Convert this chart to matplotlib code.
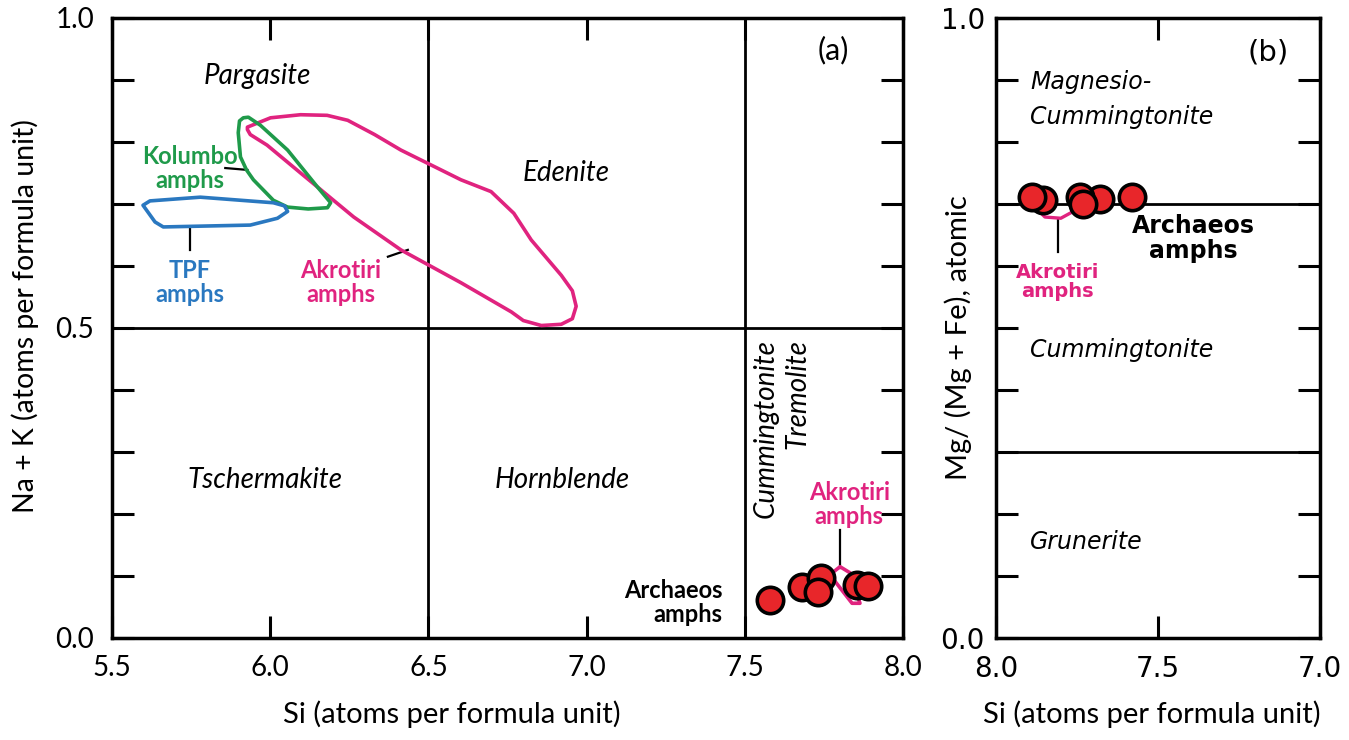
import matplotlib.pyplot as plt
from matplotlib.patches import Polygon
import numpy as np

# Archaeos amphibole analyses
si = [7.58, 7.68, 7.74, 7.73, 7.855, 7.89]
na_k = [0.061, 0.082, 0.097, 0.074, 0.085, 0.084]
mg_no = [0.711, 0.708, 0.711, 0.700, 0.706, 0.711]

# Field outlines (Si, Na+K)
akrotiri_si = [5.928, 6.001, 6.096, 6.18, 6.245, 6.33, 6.413, 6.52, 6.603, 6.698, 6.77,
               6.825, 6.92, 6.955, 6.967, 6.955, 6.92, 6.857, 6.80, 6.762, 6.603, 6.413,
               6.264, 6.096, 5.99, 5.937, 5.928]
akrotiri_nak = [0.824, 0.839, 0.844, 0.843, 0.835, 0.812, 0.787, 0.760, 0.739, 0.720, 0.685,
                0.642, 0.585, 0.560, 0.535, 0.515, 0.506, 0.504, 0.512, 0.526, 0.573, 0.626,
                0.679, 0.750, 0.795, 0.812, 0.820]
kolumbo_si = [5.915, 5.903, 5.899, 5.906, 5.925, 5.947, 6.01, 6.055, 6.12, 6.181, 6.191,
              6.15, 6.055, 5.969, 5.931]
kolumbo_nak = [0.839, 0.834, 0.815, 0.776, 0.755, 0.739, 0.706, 0.695, 0.692, 0.694, 0.702,
               0.727, 0.787, 0.827, 0.840]
tpf_si = [5.598, 5.62, 5.779, 6.01, 6.045, 6.055, 6.023, 5.937, 5.662, 5.636]
tpf_nak = [0.698, 0.705, 0.711, 0.702, 0.697, 0.688, 0.677, 0.666, 0.663, 0.671]
akro_low_si = [7.801, 7.833, 7.864, 7.839, 7.769]
akro_low_nak = [0.115, 0.105, 0.056, 0.056, 0.102]
# Akrotiri field in panel (b)
akro_b_si = [7.88, 7.849, 7.80, 7.765]
akro_b_mg = [0.695, 0.679, 0.677, 0.687]

pink = '#e0237f'
green = '#1f9a4a'
blue = '#2a78c0'
red = '#e8262a'
fa = 'Lato'
fb = 'DejaVu Sans'

fig = plt.figure(figsize=(13.49, 7.40), dpi=100)
ax = fig.add_axes([112/1349, 1-638/740, (903-112)/1349, 620/740])
bx = fig.add_axes([996/1349, 1-638/740, (1320-996)/1349, 620/740])

for a in (ax, bx):
    for s in a.spines.values():
        s.set_linewidth(2.5)
    a.tick_params(direction='in', length=16, width=2.2, labelsize=20,
                  left=True, right=True, top=True, bottom=True)
    a.set_yticks(np.arange(0, 1.01, 0.1))
    a.set_ylim(0, 1)

# ---- panel (a)
ax.set_xlim(5.5, 8.0)
ax.set_xticks([5.5, 6.0, 6.5, 7.0, 7.5, 8.0])
ax.set_xticklabels(['5.5', '6.0', '6.5', '7.0', '7.5', '8.0'], family=fa)
ax.set_yticklabels(['0.0', '', '', '', '', '0.5', '', '', '', '', '1.0'], family=fa)
ax.tick_params(axis='x', pad=12)
ax.tick_params(axis='y', pad=13)
ax.set_xlabel('Si (atoms per formula unit)', fontsize=21, family=fa)
ax.set_ylabel('Na + K (atoms per formula unit)', fontsize=20.5, family=fa)
ax.xaxis.set_label_coords(0.43, -0.1)
ax.yaxis.set_label_coords(-0.092, 0.52)

ax.axhline(0.5, color='black', lw=2)
ax.axvline(6.5, color='black', lw=2)
ax.axvline(7.5, color='black', lw=2)

for xs, ys, c in [(akrotiri_si, akrotiri_nak, pink), (kolumbo_si, kolumbo_nak, green),
                  (tpf_si, tpf_nak, blue), (akro_low_si, akro_low_nak, pink)]:
    ax.add_patch(Polygon(np.column_stack([xs, ys]), closed=True, fill=False,
                         edgecolor=c, lw=2.6, joinstyle='round', zorder=3))

ax.plot(si, na_k, 'o', ms=19, mfc=red, mec='black', mew=2.6, zorder=5)

it = dict(fontsize=20, style='italic', family=fa, ha='center', va='center')
ax.text(5.96, 0.906, 'Pargasite', **it)
ax.text(6.936, 0.75, 'Edenite', **it)
ax.text(5.985, 0.255, 'Tschermakite', **it)
ax.text(6.923, 0.255, 'Hornblende', **it)
ax.text(7.565, 0.482, 'Cummingtonite', rotation=90, fontsize=20, style='italic',
        family=fa, ha='center', va='top')
ax.text(7.668, 0.482, 'Tremolite', rotation=90, fontsize=20, style='italic',
        family=fa, ha='center', va='top')
ax.text(7.78, 0.948, '(a)', fontsize=22, family=fa, ha='center', va='center')

bd = dict(fontsize=17, fontweight='bold', family=fa, ha='center', va='center', linespacing=1.05)
ax.text(5.747, 0.758, 'Kolumbo\namphs', color=green, **bd)
ax.plot([5.858, 5.928], [0.758, 0.755], color='black', lw=1.6)
ax.text(5.747, 0.573, 'TPF\namphs', color=blue, **bd)
ax.plot([5.747, 5.747], [0.663, 0.626], color='black', lw=1.6)
ax.text(6.223, 0.573, 'Akrotiri\namphs', color=pink, **bd)
ax.plot([6.372, 6.435], [0.615, 0.626], color='black', lw=1.6)
ax.text(7.83, 0.215, 'Akrotiri\namphs', color=pink, **bd)
ax.plot([7.80, 7.80], [0.175, 0.113], color='black', lw=1.6)
ax.text(7.43, 0.058, 'Archaeos\namphs', color='black', fontsize=17, fontweight='bold',
        family=fa, ha='right', va='center', linespacing=1.05)

# ---- panel (b)
bx.set_xlim(8.0, 7.0)
bx.set_xticks([8.0, 7.5, 7.0])
bx.set_xticklabels(['8.0', '7.5', '7.0'], family=fb)
bx.set_yticklabels(['0.0', '', '', '', '', '', '', '', '', '', '1.0'], family=fb)
bx.tick_params(axis='x', pad=12)
bx.tick_params(axis='y', pad=8)
bx.set_xlabel('Si (atoms per formula unit)', fontsize=21, family=fa)
bx.set_ylabel('Mg/ (Mg + Fe), atomic', fontsize=21, family=fa)
bx.xaxis.set_label_coords(0.48, -0.1)
bx.yaxis.set_label_coords(-0.075, 0.485)

bx.axhline(0.7, color='black', lw=2)
bx.axhline(0.3, color='black', lw=2)
bx.plot(akro_b_si, akro_b_mg, color=pink, lw=2.4, zorder=3)
bx.plot(si, mg_no, 'o', ms=19, mfc=red, mec='black', mew=2.6, zorder=5)

itb = dict(fontsize=17, style='italic', family=fb, ha='left', va='center')
bx.text(7.895, 0.897, 'Magnesio-', **itb)
bx.text(7.895, 0.840, 'Cummingtonite', **itb)
bx.text(7.895, 0.465, 'Cummingtonite', **itb)
bx.text(7.895, 0.155, 'Grunerite', **itb)
bx.text(7.16, 0.945, '(b)', fontsize=21, family=fb, ha='center', va='center')

bx.text(7.809, 0.574, 'Akrotiri\namphs', color=pink, fontsize=14, fontweight='bold',
        family=fb, ha='center', va='center', linespacing=1.05)
bx.plot([7.809, 7.809], [0.676, 0.622], color='black', lw=1.6)
bx.text(7.392, 0.644, 'Archaeos\namphs', color='black', fontsize=17, fontweight='bold',
        family=fb, ha='center', va='center', linespacing=1.05)

plt.savefig('out.png', dpi=100)
